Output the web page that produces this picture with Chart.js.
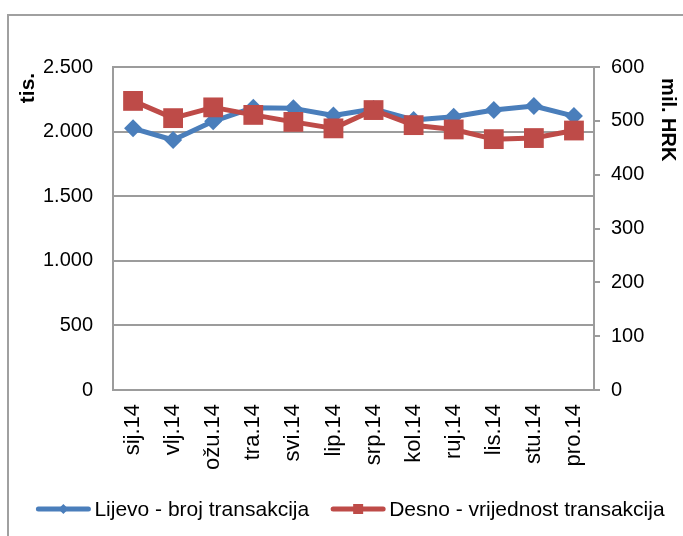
<!DOCTYPE html>
<html>
<head>
<meta charset="utf-8">
<script src="https://cdn.jsdelivr.net/npm/chart.js@4/dist/chart.umd.min.js"></script>
<style>
  html, body { margin: 0; padding: 0; background: #fff; }
  body { width: 683px; height: 536px; position: relative; overflow: hidden; }
  .frame { position: absolute; left: 7px; top: 14px; width: 720px; height: 560px;
           border-left: 2px solid #a0a0a0; border-top: 2px solid #a0a0a0; }
  #wrap { position: absolute; left: 0; top: 0; width: 683px; height: 536px; }
</style>
</head>
<body>
<div class="frame"></div>
<div id="wrap"><canvas id="myChart" width="683" height="536"></canvas></div>
<script>
// months 2014
var categories = ['sij.14', 'vlj.14', 'ožu.14', 'tra.14', 'svi.14', 'lip.14',
                  'srp.14', 'kol.14', 'ruj.14', 'lis.14', 'stu.14', 'pro.14'];
// left axis, thousands
var brojTransakcija = [2025, 1935, 2080, 2185, 2180, 2125, 2175, 2090, 2115, 2167, 2198, 2120];
// right axis, mil. HRK
var vrijednostTransakcija = [537, 505, 525, 511, 498, 486, 520, 492, 484, 466, 468, 482];
var leftTicks = ['0', '500', '1.000', '1.500', '2.000', '2.500'];
var rightTicks = ['0', '100', '200', '300', '400', '500', '600'];

var FONT = '"Liberation Sans", Arial, sans-serif';
var BLUE = '#4a7ebb';
var RED = '#be4b48';
var GRID = '#9c9c9c';

// legend drawn by hand so the sample can be a line with the marker on it
var lineLegend = {
    id: 'lineLegend',
    afterDraw: function(chart) {
        var ctx = chart.ctx;
        var y = 509;
        ctx.save();
        ctx.font = '21px ' + FONT;
        var items = chart.data.datasets.map(function(ds) {
            return { ds: ds, w: ctx.measureText(ds.label).width };
        });
        var total = 0;
        items.forEach(function(it) { total += 56 + 3 + it.w; });
        total += 21 * (items.length - 1);
        var x = 350 - total / 2;
        items.forEach(function(it) {
            var c = it.ds.borderColor;
            ctx.strokeStyle = c;
            ctx.fillStyle = c;
            ctx.lineWidth = 5;
            ctx.lineCap = 'round';
            ctx.beginPath();
            ctx.moveTo(x + 3, y);
            ctx.lineTo(x + 53, y);
            ctx.stroke();
            var cx = x + 28;
            ctx.beginPath();
            if (it.ds.pointStyle === 'rectRot') {
                ctx.moveTo(cx, y - 5); ctx.lineTo(cx + 5, y); ctx.lineTo(cx, y + 5); ctx.lineTo(cx - 5, y);
                ctx.closePath();
            } else {
                ctx.rect(cx - 5, y - 5, 10, 10);
            }
            ctx.fill();
            ctx.fillStyle = '#000';
            ctx.textBaseline = 'middle';
            ctx.textAlign = 'left';
            ctx.fillText(it.ds.label, x + 59, y + 1);
            x += 56 + 3 + it.w + 21;
        });
        ctx.restore();
    }
};

var ctx = document.getElementById('myChart').getContext('2d');
var myChart = new Chart(ctx, {
    type: 'line',
    data: {
        labels: categories,
        datasets: [{
            label: 'Lijevo - broj transakcija',
            data: brojTransakcija,
            yAxisID: 'y',
            borderColor: BLUE,
            backgroundColor: BLUE,
            borderWidth: 5,
            pointStyle: 'rectRot',
            pointRadius: 9,
            pointBorderWidth: 0,
            borderJoinStyle: 'round',
            tension: 0,
            order: 2
        }, {
            label: 'Desno - vrijednost transakcija',
            data: vrijednostTransakcija,
            yAxisID: 'y1',
            borderColor: RED,
            backgroundColor: RED,
            borderWidth: 5,
            pointStyle: 'rect',
            pointRadius: 14,
            pointBorderWidth: 0,
            borderJoinStyle: 'round',
            tension: 0,
            order: 1
        }]
    },
    options: {
        responsive: false,
        animation: false,
        layout: { padding: { top: 67, left: 0, right: 0, bottom: 56 } },
        plugins: {
            legend: { display: false },
            tooltip: { enabled: false }
        },
        scales: {
            x: {
                offset: true,
                grid: { display: false, drawTicks: false },
                border: { display: true, color: GRID, width: 2 },
                ticks: {
                    color: '#000',
                    font: { family: FONT, size: 22 },
                    minRotation: 90,
                    maxRotation: 90,
                    padding: 14,
                    autoSkip: false
                },
                afterFit: function(scale) { scale.height = 90; }
            },
            y: {
                position: 'left',
                min: 0,
                max: 2500,
                ticks: {
                    stepSize: 500,
                    color: '#000',
                    font: { family: FONT, size: 20 },
                    padding: 20,
                    callback: function(v, i) { return leftTicks[i]; }
                },
                grid: { color: GRID, lineWidth: 2, drawTicks: false },
                border: { display: true, color: GRID, width: 2 },
                title: {
                    display: true,
                    text: 'tis.\u00a0',
                    color: '#000',
                    align: 'end',
                    font: { family: FONT, size: 21, weight: 'bold' },
                    padding: { top: 16, bottom: 0 }
                },
                afterFit: function(scale) { scale.width = 113; }
            },
            y1: {
                position: 'right',
                min: 0,
                max: 600,
                ticks: {
                    stepSize: 100,
                    color: '#000',
                    font: { family: FONT, size: 20 },
                    padding: 11,
                    callback: function(v, i) { return rightTicks[i]; }
                },
                grid: { drawOnChartArea: false, color: GRID, lineWidth: 2, tickLength: 6 },
                border: { display: true, color: GRID, width: 2 },
                title: {
                    display: true,
                    text: '\u00a0\u00a0mil. HRK',
                    color: '#000',
                    align: 'end',
                    font: { family: FONT, size: 20, weight: 'bold' },
                    padding: { top: 3, bottom: 0 }
                },
                afterFit: function(scale) { scale.width = 89; }
            }
        }
    },
    plugins: [lineLegend]
});
</script>
</body>
</html>
